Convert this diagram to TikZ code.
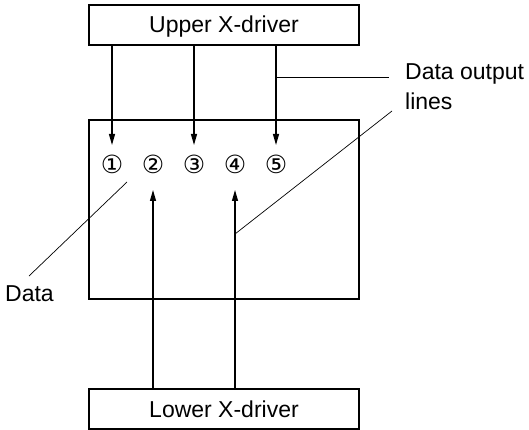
\documentclass[tikz,border=0pt]{standalone}
\usepackage{fontspec}
\setmainfont{Liberation Sans}
\newfontfamily\symfont{DejaVu Sans}
\usetikzlibrary{arrows.meta}
\begin{document}
\begin{tikzpicture}[x=1pt,y=-1pt,
  boxst/.style={draw,line width=1.3pt,minimum width=270pt,minimum height=40pt,inner sep=0pt},
  arr/.style={line width=1.2pt,-{Triangle[length=11pt,width=6pt]}},
  leader/.style={line width=0.7pt},
  lbl/.style={font=\fontsize{23}{26}\selectfont,inner sep=0pt},
  num/.style={font=\symfont\fontsize{25}{27}\selectfont,inner sep=0pt}]
\useasboundingbox (0,0) rectangle (529,430);
\node[boxst] (up) at (224,25) {};
\node[boxst] (low) at (224,409) {};
\node[lbl,anchor=base] (uptxt) at (224,33) {Upper X-driver};
\node[lbl,anchor=base] (lowtxt) at (224,417) {Lower X-driver};
\node[draw,line width=1.3pt,minimum width=270pt,minimum height=179pt,inner sep=0pt] (panel) at (224,209.5) {};
\node[num] (n1) at (112,164) {①};
\node[num] (n2) at (153,164) {②};
\node[num] (n3) at (194,164) {③};
\node[num] (n4) at (235,164) {④};
\node[num] (n5) at (276,164) {⑤};
\coordinate (t1) at (112,145);
\coordinate (t3) at (194,145);
\coordinate (t5) at (276,145);
\coordinate (t2) at (153,190);
\coordinate (t4) at (235,190);
\draw[arr] (up.south -| t1) -- (t1);
\draw[arr] (up.south -| t3) -- (t3);
\draw[arr] (up.south -| t5) -- (t5);
\draw[arr] (low.north -| t2) -- (t2);
\draw[arr] (low.north -| t4) -- (t4);
\node[lbl,anchor=base west] (dol) at (405,80) {Data output};
\node[lbl,anchor=base west] (lines) at (405,110) {lines};
\node[lbl,anchor=base west] (data) at (5,301) {Data};
\coordinate (h1) at (276,77.5);
\coordinate (h2) at (389,77.5);
\coordinate (d1) at (392,111);
\coordinate (d2) at (235,234);
\coordinate (e1) at (127,182);
\coordinate (e2) at (29,276);
\draw[leader] (h1) -- (h2);
\draw[leader] (d1) -- (d2);
\draw[leader] (e1) -- (e2);
\end{tikzpicture}
\end{document}
